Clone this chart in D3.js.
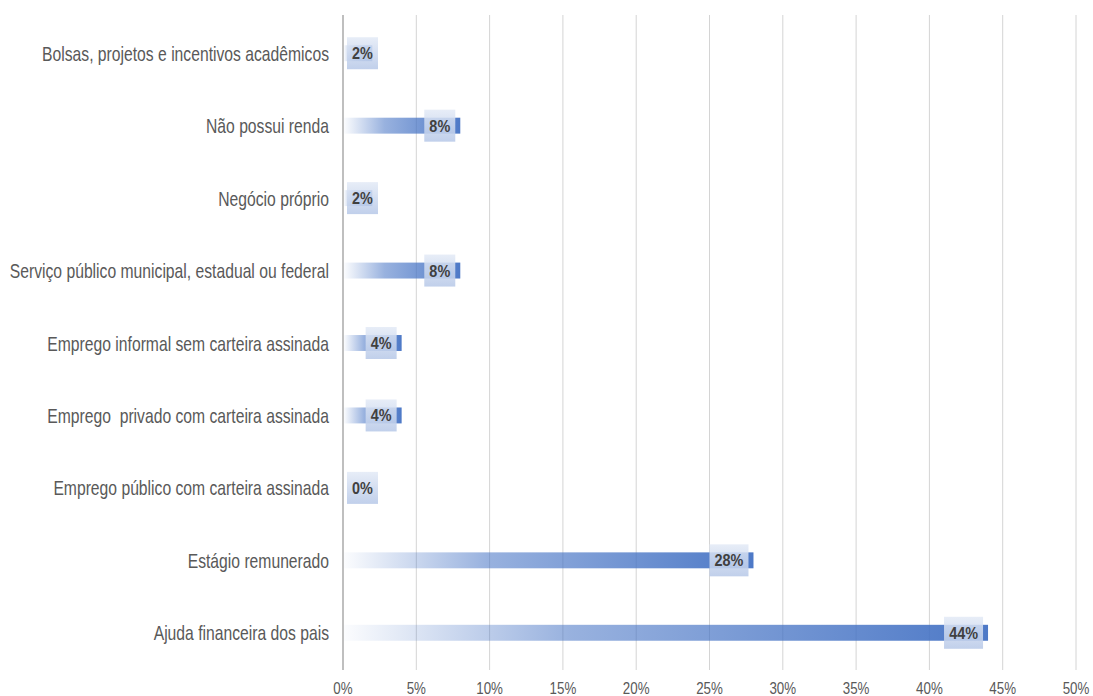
<!DOCTYPE html>
<html>
<head>
<meta charset="utf-8">
<script src="https://cdn.jsdelivr.net/npm/d3@7"></script>
<style>
  body { margin: 0; background: #fff; }
  text { font-family: "Liberation Sans", Arial, sans-serif; white-space: pre; }
</style>
</head>
<body>
<svg id="chart" width="1093" height="696"></svg>
<script>
// categories top to bottom, values in percent
var categories = [
  "Bolsas, projetos e incentivos acadêmicos",
  "Não possui renda",
  "Negócio próprio",
  "Serviço público municipal, estadual ou federal",
  "Emprego informal sem carteira assinada",
  "Emprego  privado com carteira assinada",
  "Emprego público com carteira assinada",
  "Estágio remunerado",
  "Ajuda financeira dos pais"
];
var values = [2, 8, 2, 8, 4, 4, 0, 28, 44];
var tickValues = [0, 5, 10, 15, 20, 25, 30, 35, 40, 45, 50];

var svg = d3.select("#chart"),
    squeeze = 0.785; // text in the picture is horizontally condensed

var x = d3.scaleLinear().domain([0, 50]).range([343, 1076]);
var y = d3.scaleBand().domain(categories).range([17, 669]).paddingInner(0.78).paddingOuter(0.39);

var defs = svg.append("defs");
var barGrad = defs.append("linearGradient").attr("id", "barGrad")
  .attr("x1", "0").attr("x2", "1").attr("y1", "0").attr("y2", "0");
barGrad.append("stop").attr("offset", "0%").attr("stop-color", "#4472c4").attr("stop-opacity", 0.02);
barGrad.append("stop").attr("offset", "35%").attr("stop-color", "#4472c4").attr("stop-opacity", 0.55);
barGrad.append("stop").attr("offset", "100%").attr("stop-color", "#4472c4").attr("stop-opacity", 0.95);

var boxGrad = defs.append("linearGradient").attr("id", "boxGrad")
  .attr("x1", "0").attr("x2", "0").attr("y1", "0").attr("y2", "1");
boxGrad.append("stop").attr("offset", "0%").attr("stop-color", "#e3eaf6").attr("stop-opacity", 0.85);
boxGrad.append("stop").attr("offset", "100%").attr("stop-color", "#b8c9e8").attr("stop-opacity", 0.88);

// vertical gridlines
svg.append("g").selectAll("line")
  .data(tickValues)
  .enter().append("line")
  .attr("x1", d => x(d)).attr("x2", d => x(d))
  .attr("y1", 15).attr("y2", 670)
  .attr("stroke", d => d === 0 ? "#bfbfbf" : "#d4d4d4")
  .attr("stroke-width", d => d === 0 ? 2 : 1);

// x tick labels
svg.append("g").selectAll("text")
  .data(tickValues)
  .enter().append("text")
  .attr("transform", d => `translate(${x(d)},694) scale(${squeeze},1)`)
  .attr("text-anchor", "middle")
  .attr("font-size", 17)
  .attr("fill", "#595959")
  .text(d => d + "%");

// category labels
svg.append("g").selectAll("text")
  .data(categories)
  .enter().append("text")
  .attr("transform", d => `translate(329,${y(d) + y.bandwidth() / 2 + 7.5}) scale(${squeeze},1)`)
  .attr("text-anchor", "end")
  .attr("font-size", 20)
  .attr("fill", "#595959")
  .text(d => d);

// bars
svg.append("g").selectAll("rect")
  .data(values)
  .enter().append("rect")
  .attr("x", x(0) + 1)
  .attr("y", (d, i) => y(categories[i]))
  .attr("width", d => Math.max(0, x(d) - x(0) - 1))
  .attr("height", y.bandwidth())
  .attr("fill", "url(#barGrad)");

// data labels
svg.append("g").selectAll("g")
  .data(values)
  .enter().append("g")
  .each(function(d, i) {
    var g = d3.select(this),
        w = d >= 10 ? 39 : 31,
        cy = y(categories[i]) + y.bandwidth() / 2,
        bx = Math.max(x(d) - 5 - w, x(0) + 4);
    g.append("rect")
      .attr("x", bx).attr("y", cy - 16)
      .attr("width", w).attr("height", 32)
      .attr("fill", "url(#boxGrad)");
    g.append("text")
      .attr("transform", `translate(${bx + w / 2},${cy + 6}) scale(0.9,1)`)
      .attr("text-anchor", "middle")
      .attr("font-size", 16)
      .attr("font-weight", "bold")
      .attr("fill", "#404040")
      .text(d + "%");
  });
</script>
</body>
</html>
